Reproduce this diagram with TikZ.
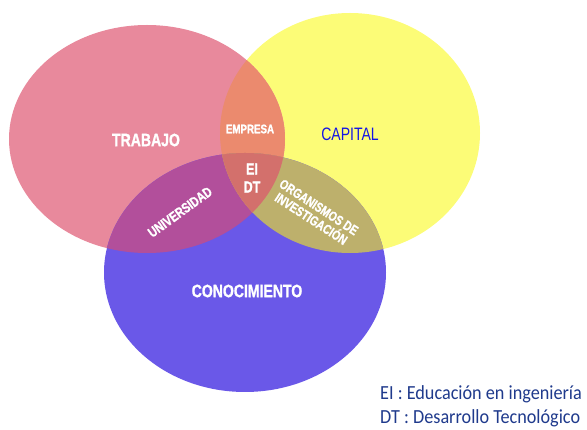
\documentclass[tikz,border=0pt]{standalone}
\usepackage{fontspec}
\setmainfont{Liberation Sans}[FakeStretch=0.78, BoldFeatures={FakeBold=1.2}]
\newfontfamily\legendfont{Carlito}[FakeStretch=0.91]
\definecolor{cpink}{HTML}{E8899C}
\definecolor{cyellow}{HTML}{FCFC77}
\definecolor{cblue}{HTML}{6A58E8}
\definecolor{corange}{HTML}{EB8A6E}
\definecolor{cpurple}{HTML}{B24F9B}
\definecolor{colive}{HTML}{BDB06C}
\definecolor{ccenter}{HTML}{D3706C}
\definecolor{ccapital}{HTML}{1414E6}
\definecolor{clegend}{HTML}{1F3A8C}
\tikzset{
  lbl/.style={text=white, font=\bfseries\fontsize{#1}{#1}\selectfont, inner sep=0pt, align=center},
  legend/.style={text=clegend, font=\legendfont\fontsize{20}{24}\selectfont, inner sep=0pt, align=left, anchor=base west}
}
\begin{document}
\begin{tikzpicture}[x=1pt,y=-1pt]
\useasboundingbox (0,0) rectangle (587,430);
% ellipses
\def\pinkE{(147,139) ellipse [x radius=138, y radius=114]}
\def\yelE{(350,133) ellipse [x radius=130, y radius=120]}
\def\blueE{(245,272.5) ellipse [x radius=141, y radius=119.5]}
\fill[cyellow] \yelE;
\fill[cpink] \pinkE;
\fill[cblue] \blueE;
\begin{scope}
  \clip \pinkE;
  \fill[corange] \yelE;
  \fill[cpurple] \blueE;
  \clip \yelE;
  \fill[ccenter] \blueE;
\end{scope}
\begin{scope}
  \clip \yelE;
  \clip \blueE;
  \fill[colive] (100,100) rectangle (500,400);
  \clip \pinkE;
  \fill[ccenter] (100,100) rectangle (500,400);
\end{scope}
% labels
\node[lbl=18] (trabajo) at (146,140) {TRABAJO};
\node[inner sep=0pt, text=ccapital, font=\fontsize{18}{18}\selectfont] (capital) at (350,134) {CAPITAL};
\node[lbl=12.5] (empresa) at (250,129) {EMPRESA};
\node[lbl=16] (ei) at (252,169) {EI};
\node[lbl=16] (dt) at (252,187) {DT};
\node[lbl=14, rotate=36] (univ) at (180,212) {UNIVERSIDAD};
\node[lbl=14, rotate=-33, font=\bfseries\fontsize{13.5}{14}\selectfont] (org) at (315,213) {ORGANISMOS DE\\INVESTIGACIÓN};
\node[lbl=18] (conoc) at (247,291) {CONOCIMIENTO};
\node[legend] (leg1) at (380,400) {EI : Educación en ingeniería};
\node[legend] (leg2) at (380,424) {DT : Desarrollo Tecnológico};
\end{tikzpicture}
\end{document}
